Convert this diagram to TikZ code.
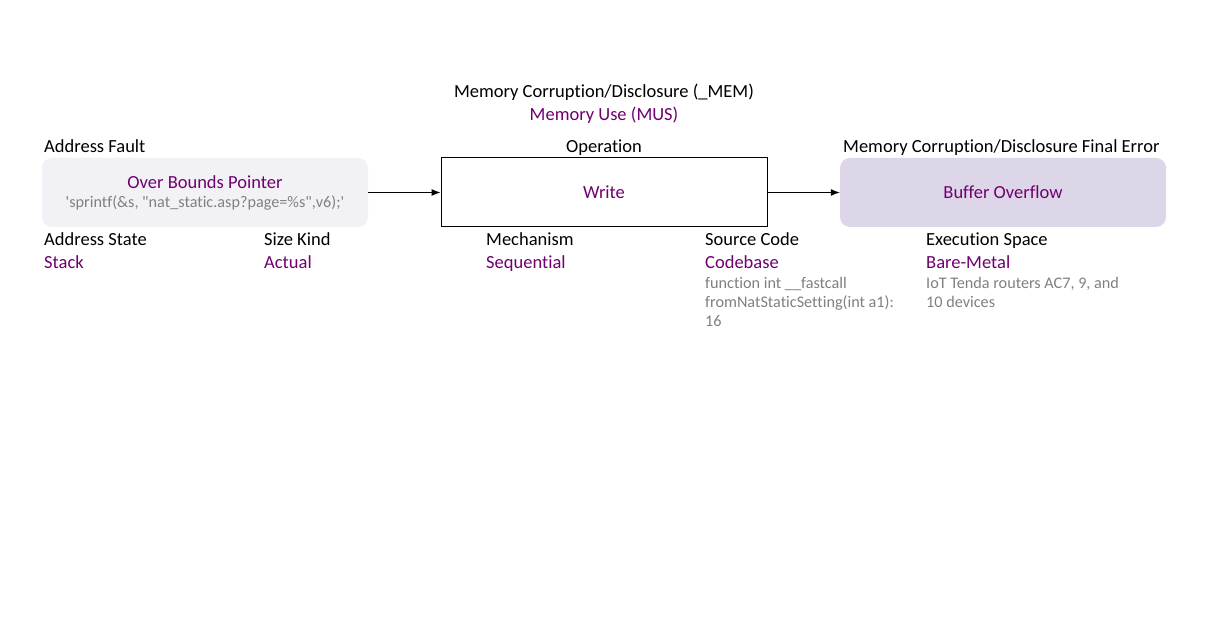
\documentclass[tikz,border=0pt]{standalone}
\usepackage{fontspec}
\setmainfont{Carlito}[Ligatures={NoCommon}]
\usetikzlibrary{arrows.meta}
\definecolor{purp}{RGB}{112,0,112}
\definecolor{graytxt}{RGB}{128,128,128}
\definecolor{boxA}{RGB}{242,241,246}
\definecolor{boxC}{RGB}{221,214,232}
\begin{document}
\begin{tikzpicture}[x=1pt,y=-1pt,
  lbl/.style={inner sep=0pt,anchor=base west,font=\fontsize{18.5}{22}\selectfont,text=black},
  lblc/.style={lbl,anchor=base},
  val/.style={lbl,text=purp},
  valc/.style={lblc,text=purp},
  note/.style={inner sep=0pt,anchor=base west,font=\fontsize{16.2}{19}\selectfont,text=graytxt},
  notec/.style={note,anchor=base},
  rbox/.style={rounded corners=10pt},
  conn/.style={-{Latex[length=9pt,width=7pt]},black,line width=1pt}]
\useasboundingbox (0,0) rectangle (1207,617);
\fill[white] (0,0) rectangle (1207,617);
% boxes
\fill[boxA,rbox] (42,158) rectangle (368,227);
\node[inner sep=0pt,minimum width=326pt,minimum height=69pt] (Abox) at (205,192.5) {};
\node[draw=black,line width=1pt,inner sep=0pt,minimum width=326pt,minimum height=69pt] (Bbox) at (604,192.5) {};
\fill[boxC,rbox] (840,158) rectangle (1166,227);
\node[inner sep=0pt,minimum width=326pt,minimum height=69pt] (Cbox) at (1003,192.5) {};
\draw[conn] (Abox.east) -- (Bbox.west);
\draw[conn] (Bbox.east) -- (Cbox.west);
% top labels
\node[lblc] (t1) at (604,98) {Memory Corruption/Disclosure (\_MEM)};
\node[valc] (t2) at (604,121) {Memory Use (MUS)};
\node[lbl] (l1) at (44,153) {Address Fault};
\node[lblc] (l2) at (604,153) {Operation};
\node[lbl] (l3) at (843,153) {Memory Corruption/Disclosure Final Error};
% box texts
\node[valc] (a1) at (205,189) {Over Bounds Pointer};
\node[notec] (a2) at (205,208) {\textquotesingle sprintf(\&s, \textquotedbl nat\_static.asp?page=\%s\textquotedbl,v6);\textquotesingle};
\node[valc] (b1) at (604,199) {Write};
\node[valc] (c1) at (1003,199) {Buffer Overflow};
% bottom attributes
\node[lbl] (s1) at (44,246) {Address State};
\node[val] (s2) at (44,269) {Stack};
\node[lbl] (k1) at (264,246) {Size Kind};
\node[val] (k2) at (264,269) {Actual};
\node[lbl] (m1) at (486,246) {Mechanism};
\node[val] (m2) at (486,269) {Sequential};
\node[lbl] (c1a) at (705,246) {Source Code};
\node[val] (c2a) at (705,269) {Codebase};
\node[note] (c3a) at (705,289) {function int \_\_fastcall};
\node[note] (c4a) at (705,308) {fromNatStaticSetting(int a1):};
\node[note] (c5a) at (705,327) {16};
\node[lbl] (e1) at (926,246) {Execution Space};
\node[val] (e2) at (926,269) {Bare-Metal};
\node[note] (e3) at (926,289) {IoT Tenda routers AC7, 9, and};
\node[note] (e4) at (926,308) {10 devices};
\end{tikzpicture}
\end{document}
